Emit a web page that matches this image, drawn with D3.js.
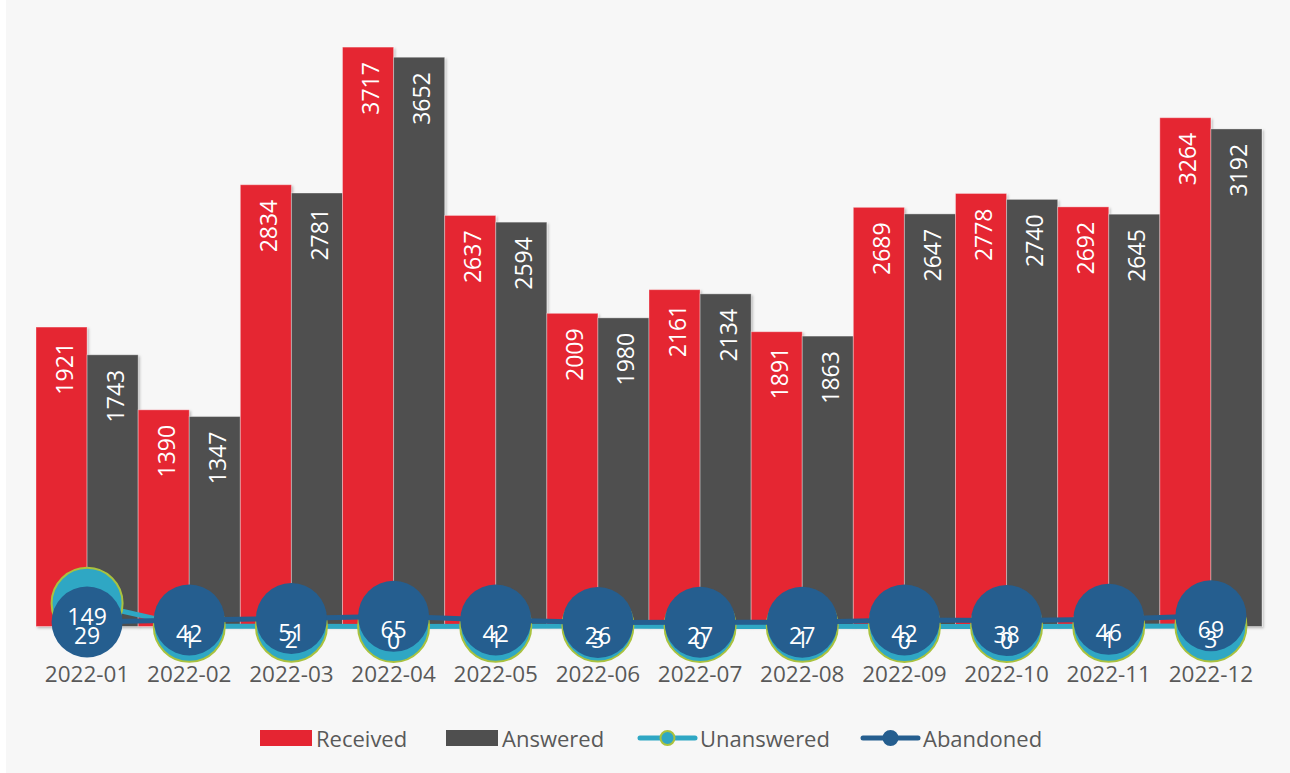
<!DOCTYPE html>
<html>
<head>
<meta charset="utf-8">
<script src="https://cdn.jsdelivr.net/npm/d3@7"></script>
<style>
  html, body { margin: 0; padding: 0; background: #ffffff; }
  svg { display: block; }
  text { font-family: "Open Sans", "Noto Sans", sans-serif; }
</style>
</head>
<body>
<svg id="chart" width="1290" height="773"></svg>
<script>
const months = ["2022-01","2022-02","2022-03","2022-04","2022-05","2022-06","2022-07","2022-08","2022-09","2022-10","2022-11","2022-12"];
const received = [1921, 1390, 2834, 3717, 2637, 2009, 2161, 1891, 2689, 2778, 2692, 3264];
const answered = [1743, 1347, 2781, 3652, 2594, 1980, 2134, 1863, 2647, 2740, 2645, 3192];
const unanswered = [149, 1, 2, 0, 1, 3, 0, 1, 0, 0, 1, 3];
const abandoned = [29, 42, 51, 65, 42, 26, 27, 27, 42, 38, 46, 69];
const seriesNames = ["Received", "Answered", "Unanswered", "Abandoned"];
const colors = { Received: "#e52532", Answered: "#4f4f4f", Unanswered: "#2fa7c4", Abandoned: "#255e8f" };
const unansweredStroke = "#a9c23f";

const W = 1290, H = 773;
const svg = d3.select("#chart");

// panel background
svg.append("rect").attr("x", 6).attr("y", 0).attr("width", W - 6).attr("height", H).attr("fill", "#f7f7f7");

const defs = svg.append("defs");
const f = defs.append("filter").attr("id", "shadow").attr("x", "-10%").attr("y", "-10%").attr("width", "130%").attr("height", "130%");
f.append("feDropShadow").attr("dx", 1.5).attr("dy", 1.5).attr("stdDeviation", 1).attr("flood-color", "#000").attr("flood-opacity", 0.25);

const x = d3.scaleBand().domain(months).range([36, 1262]).padding(0);
const xs = d3.scaleBand().domain(["Received", "Answered"]).range([0, x.bandwidth()]).padding(0);
const y = d3.scaleLinear().domain([0, 4000]).range([626.5, 3]);

const barData = [];
months.forEach((m, i) => {
  barData.push({ m, key: "Received", v: received[i] });
  barData.push({ m, key: "Answered", v: answered[i] });
});

const gBars = svg.append("g");
gBars.selectAll("rect").data(barData).join("rect")
  .attr("x", d => x(d.m) + xs(d.key))
  .attr("y", d => y(d.v))
  .attr("width", xs.bandwidth())
  .attr("height", d => y(0) - y(d.v))
  .attr("fill", d => colors[d.key])
  .attr("stroke", "rgba(255,255,255,0.35)")
  .attr("stroke-width", 1)
  .attr("filter", "url(#shadow)");

gBars.selectAll("text").data(barData).join("text")
  .attr("transform", d => `translate(${x(d.m) + xs(d.key) + xs.bandwidth() / 2 + 2},${y(d.v) + 15}) rotate(-90)`)
  .attr("text-anchor", "end")
  .attr("dominant-baseline", "central")
  .attr("fill", "#ffffff")
  .attr("font-size", 23)
  .text(d => d.v);

// x axis labels
const xAxis = d3.axisBottom(x).tickSize(0).tickPadding(0);
const gx = svg.append("g").attr("transform", `translate(0,${y(0)})`).call(xAxis);
gx.select(".domain").remove();
gx.selectAll("text")
  .attr("y", 55)
  .attr("dy", 0)
  .attr("fill", "#595959")
  .attr("font-size", 22.5)
  .attr("font-family", "Open Sans, Noto Sans, sans-serif");

const cx = m => x(m) + x.bandwidth() / 2;
const R = 35.5;

function drawLine(values, color, strokeCol) {
  const pts = months.map((m, i) => [cx(m), y(values[i])]);
  svg.append("path")
    .attr("d", d3.line()(pts))
    .attr("fill", "none")
    .attr("stroke", color)
    .attr("stroke-width", 5);
  svg.append("g").selectAll("circle").data(pts).join("circle")
    .attr("cx", d => d[0]).attr("cy", d => d[1]).attr("r", R)
    .attr("fill", color)
    .attr("stroke", strokeCol || color)
    .attr("stroke-width", strokeCol ? 2 : 0);
  return pts;
}
const pU = drawLine(unanswered, colors.Unanswered, unansweredStroke);
const pA = drawLine(abandoned, colors.Abandoned, null);

function drawLabels(pts, values) {
  svg.append("g").selectAll("text").data(pts).join("text")
    .attr("x", d => d[0])
    .attr("y", d => d[1] + 13)
    .attr("text-anchor", "middle")
    .attr("dominant-baseline", "central")
    .attr("fill", "#ffffff")
    .attr("font-size", 23)
    .text((d, i) => values[i]);
}
drawLabels(pU, unanswered);
drawLabels(pA, abandoned);

// legend
const lg = svg.append("g");
const legendItems = [
  { name: seriesNames[0], x: 260, type: "bar" },
  { name: seriesNames[1], x: 446, type: "bar" },
  { name: seriesNames[2], x: 640, type: "line" },
  { name: seriesNames[3], x: 863, type: "line" }
];
const ly = 738;
legendItems.forEach(it => {
  const c = colors[it.name];
  if (it.type === "bar") {
    lg.append("rect").attr("x", it.x).attr("y", ly - 8).attr("width", 52).attr("height", 16).attr("fill", c);
  } else {
    lg.append("line").attr("x1", it.x).attr("x2", it.x + 55).attr("y1", ly).attr("y2", ly)
      .attr("stroke", c).attr("stroke-width", 5).attr("stroke-linecap", "round");
    lg.append("circle").attr("cx", it.x + 27.5).attr("cy", ly).attr("r", 7)
      .attr("fill", c)
      .attr("stroke", it.name === "Unanswered" ? unansweredStroke : c)
      .attr("stroke-width", 2);
  }
  lg.append("text")
    .attr("x", it.x + (it.type === "bar" ? 56 : 60))
    .attr("y", ly)
    .attr("dominant-baseline", "central")
    .attr("fill", "#595959")
    .attr("font-size", 22)
    .text(it.name);
});
</script>
</body>
</html>
